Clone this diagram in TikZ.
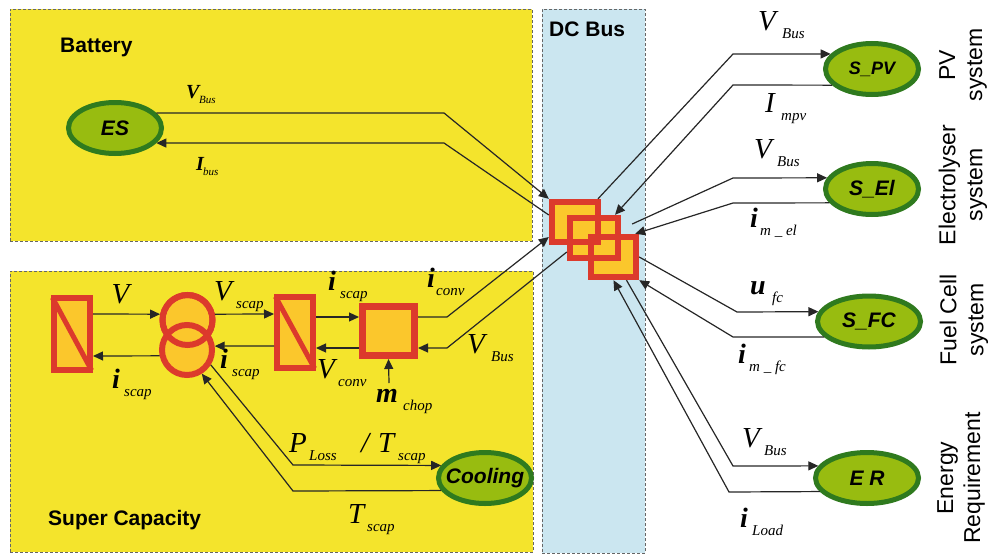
\documentclass[tikz,border=0pt]{standalone}
\usepackage{fontspec}
\setmainfont{Liberation Serif}
\setsansfont{Liberation Sans}
\usepackage{xcolor}
\usepackage{tikz}
\usetikzlibrary{arrows.meta, shapes.geometric, calc}

\definecolor{panelyellow}{HTML}{F4E42C}
\definecolor{panelblue}{HTML}{CBE6F0}
\definecolor{blockfill}{HTML}{FBC72C}
\definecolor{blockred}{HTML}{DC3A2C}
\definecolor{sourcefill}{HTML}{98BC10}
\definecolor{sourcedraw}{HTML}{2F7A1E}

\newcommand{\sigv}[3]{\makebox[#1][l]{\fontsize{29}{29}\selectfont\itshape #2}\raisebox{-8pt}{\fontsize{15}{15}\selectfont\itshape #3}}
\newcommand{\sigb}[3]{\makebox[#1][l]{\fontsize{28}{28}\selectfont\bfseries\itshape #2}\raisebox{-8pt}{\fontsize{15}{15}\selectfont\itshape #3}}
\newcommand{\sigs}[3]{\makebox[#1][l]{\fontsize{20}{20}\selectfont\bfseries\itshape #2}\raisebox{-5pt}{\fontsize{11}{11}\selectfont\itshape #3}}

\begin{document}
\begin{tikzpicture}[
    x=1pt, y=-1pt,
    panel/.style={rectangle, draw=black!60, densely dashed, line width=0.9pt, anchor=north west, inner sep=0pt},
    title/.style={font=\sffamily\bfseries\fontsize{21}{21}\selectfont, anchor=base west, inner sep=0pt},
    source/.style={ellipse, draw=sourcedraw, fill=sourcefill, line width=5pt, inner sep=0pt, minimum width=93pt, minimum height=51pt, font=\sffamily\bfseries\itshape\fontsize{21}{21}\selectfont},
    block/.style={rectangle, fill=blockfill, draw=blockred, line width=6pt, inner sep=0pt},
    stack/.style={rectangle, fill=blockfill, inner sep=0pt},
    ring/.style={circle, draw=blockred, fill=blockfill, line width=6pt, inner sep=0pt, minimum size=50pt},
    sig/.style={anchor=base west, inner sep=0pt},
    side/.style={rotate=90, align=center, font=\sffamily\fontsize{23}{27}\selectfont, inner sep=0pt},
    wire/.style={line width=1.2pt, black!85},
    arr/.style={wire, -{Stealth[length=10pt, width=9pt, inset=0pt]}}
]
\useasboundingbox (0,0) rectangle (990,554);

\node[panel, fill=panelyellow, minimum width=522pt, minimum height=232pt] (battery) at (10,9) {};
\node[panel, fill=panelyellow, minimum width=523pt, minimum height=281pt] (supercap) at (10,271) {};
\node[panel, fill=panelblue, minimum width=103pt, minimum height=544pt] (dcbus) at (542,9) {};

\node[title] (batterytitle) at (60,52) {Battery};
\node[title] (supertitle) at (48,525) {Super Capacity};
\node[title] (dcbustitle) at (549,36) {DC Bus};

\node[source] (es) at (115,128) {ES};
\node[source] (cooling) at (485,478) {\makebox[0pt]{Cooling}};
\node[source, font=\sffamily\bfseries\itshape\fontsize{18}{18}\selectfont] (pv) at (872,69) {S\_PV};
\node[source] (el) at (872,189) {S\_El};
\node[source, minimum width=103pt] (fc) at (869,321.5) {S\_FC};
\node[source, minimum width=103pt] (er) at (867,478) {E R};

\node[stack, minimum width=52pt, minimum height=46pt] (box1) at (575,222) {};
\node[stack, minimum width=54pt, minimum height=46pt] (box2) at (594,238) {};
\node[stack, minimum width=51pt, minimum height=46pt] (box3) at (613.5,257) {};
\foreach \boxname in {box1, box2, box3}
    \draw[blockred, line width=6pt] ([shift={(3pt,3pt)}]\boxname.south west) rectangle ([shift={(-3pt,-3pt)}]\boxname.north east);

\node[block, minimum width=36pt, minimum height=72pt] (rectleft) at (72,334) {};
\draw[blockred, line width=5pt, shorten >=3pt, shorten <=3pt] (rectleft.north west) -- (rectleft.south east);
\node[ring] (ringup) at (187.5,320) {};
\node[ring] (ringlow) at (187,350) {};
\draw[blockred, line width=6pt] (ringup.center) circle (25pt);
\node[block, minimum width=36pt, minimum height=71pt] (rectmid) at (295,332.5) {};
\draw[blockred, line width=5pt, shorten >=3pt, shorten <=3pt] (rectmid.north west) -- (rectmid.south east);
\node[block, line width=7pt, minimum width=52pt, minimum height=49pt] (chopper) at (388.5,331) {};

\coordinate (bendbatup) at (444,113);
\coordinate (bendbatlow) at (444,143);
\coordinate (bendconvup) at (447,317);
\coordinate (bendconvlow) at (447,348);
\coordinate (bendlossup) at (293,465);
\coordinate (bendlosslow) at (293,491);
\coordinate (bendpvup) at (733,54);
\coordinate (bendpvlow) at (733,85);
\coordinate (bendelup) at (733,178);
\coordinate (bendellow) at (733,203);
\coordinate (bendfcup) at (737,312);
\coordinate (bendfclow) at (733,337);
\coordinate (benderup) at (733,466);
\coordinate (benderlow) at (729,492);
\coordinate (mchopend) at (389,383);

\draw[arr] (es.20) -- (bendbatup) -- (box1.north west);
\draw[arr] ([yshift=7pt]box1.west) -- (bendbatlow) -- (es.-20);
\draw[arr] ([yshift=20pt]rectleft.east) -- (ringup.168);
\draw[arr] (ringlow.192) -- ([yshift=-22pt]rectleft.east);
\draw[arr] (ringup.12) -- ([yshift=18.5pt]rectmid.west);
\draw[arr] ([yshift=-13.5pt]rectmid.west) -- (ringlow.8);
\draw[arr] ([yshift=15.5pt]rectmid.east) -- ([yshift=14pt]chopper.west);
\draw[arr] ([yshift=-17pt]chopper.west) -- ([yshift=-15.5pt]rectmid.east);
\draw[arr] ([yshift=14pt]chopper.east) -- (bendconvup) -- ([yshift=-15pt]box1.west);
\draw[arr] ([yshift=-14pt]box2.west) -- (bendconvlow) -- ([yshift=-17pt]chopper.east);
\draw[arr] (mchopend) -- (chopper.south);
\draw[arr] (ringlow.-32) -- (bendlossup) -- (cooling.164);
\draw[arr] (cooling.196) -- (bendlosslow) -- (ringlow.-58);

\draw[arr] ([xshift=23pt]box1.north) -- (bendpvup) -- (pv.160);
\draw[arr] (pv.202) -- (bendpvlow) -- ([xshift=21pt]box2.north);
\draw[arr] ([xshift=11pt,yshift=14pt]box2.east) -- (bendelup) -- (el.166);
\draw[arr] (el.198) -- (bendellow) -- ([xshift=-4pt]box3.north east);
\draw[arr] (box3.east) -- (bendfcup) -- (fc.169);
\draw[arr] (fc.199) -- (bendfclow) -- (box3.south east);
\draw[arr] ([xshift=13pt]box3.south) -- (benderup) -- (er.166);
\draw[arr] (er.196) -- (benderlow) -- (box3.south);

\node[sig] (vbusbat) at (186,98) {\sigs{13pt}{V}{Bus}};
\node[sig] (ibusbat) at (196,170) {\sigs{7pt}{I}{bus}};
\node[sig] (vleft) at (111,303) {\sigv{0pt}{V}{}};
\node[sig] (iscapleft) at (112,388) {\sigb{12pt}{i}{scap}};
\node[sig] (vscap) at (214,300) {\sigv{22pt}{V}{scap}};
\node[sig] (iscaptop) at (328,290) {\sigb{12pt}{i}{scap}};
\node[sig] (iconv) at (427,287) {\sigb{9pt}{i}{conv}};
\node[sig] (vbusconv) at (467,353) {\sigv{24pt}{V}{Bus}};
\node[sig] (iscapmid) at (220,368) {\sigb{12pt}{i}{scap}};
\node[sig] (vconv) at (317,378) {\sigv{21pt}{V}{conv}};
\node[sig] (mchop) at (376,402) {\sigb{27pt}{m}{chop}};
\node[sig] (ploss) at (289,452) {\makebox[72pt][l]{\sigv{20pt}{P}{Loss}}\makebox[17pt][l]{\fontsize{29}{29}\selectfont\itshape /}\sigv{20pt}{T}{scap}};
\node[sig] (tscap) at (348,523) {\sigv{19pt}{T}{scap}};

\node[sig] (vbuspv) at (758,30) {\sigv{24pt}{V}{Bus}};
\node[sig] (impv) at (765,112) {\sigv{16pt}{I}{mpv}};
\node[sig] (vbusel) at (754,158) {\sigv{23pt}{V}{Bus}};
\node[sig] (imel) at (750,227) {\sigb{10pt}{i}{m \_ el}};
\node[sig] (ufc) at (750,294) {\sigb{22pt}{u}{fc}};
\node[sig] (imfc) at (738,363) {\sigb{11pt}{i}{m \_ fc}};
\node[sig] (vbuser) at (742,447) {\sigv{22pt}{V}{Bus}};
\node[sig] (iload) at (740,527) {\sigb{12pt}{i}{Load}};

\node[side] (pvlabel) at (963,65) {PV\\system};
\node[side] (ellabel) at (963,185) {Electrolyser\\system};
\node[side] (fclabel) at (964,320) {Fuel Cell\\system};
\node[side] (erlabel) at (961,478) {Energy\\Requirement};
\end{tikzpicture}
\end{document}
